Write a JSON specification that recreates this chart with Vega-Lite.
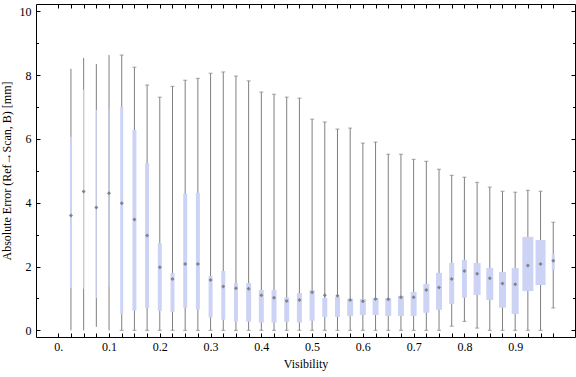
{
  "$schema": "https://vega.github.io/schema/vega-lite/v6.json",
  "width": 539,
  "height": 333,
  "autosize": {"type": "none"},
  "padding": {"left": 36, "top": 4, "right": 1, "bottom": 40},
  "background": "#ffffff",
  "config": {
    "view": {"stroke": "#000000", "strokeWidth": 1},
    "axis": {"domain": false, "grid": false, "tickColor": "#000000", "tickWidth": 1, "labelFont": "Liberation Serif", "labelFontSize": 12, "labelColor": "#000000", "titleFont": "Liberation Serif", "titleFontSize": 12, "titleFontWeight": "normal", "titleColor": "#000000"}
  },
  "data": {
    "values": [
      {"x": 0.025, "min": 0, "q1": 1.32, "mean": 3.6, "q3": 6.07, "max": 8.2, "n": 2},
      {"x": 0.05, "min": 0, "q1": 1.3, "mean": 4.35, "q3": 7.55, "max": 8.54, "n": 1},
      {"x": 0.075, "min": 0.11, "q1": 1.01, "mean": 3.85, "q3": 6.91, "max": 8.35, "n": 1},
      {"x": 0.1, "min": 0, "q1": 1.36, "mean": 4.3, "q3": 6.95, "max": 8.63, "n": 1},
      {"x": 0.125, "min": 0, "q1": 0.51, "mean": 3.98, "q3": 7.0, "max": 8.63, "n": 3},
      {"x": 0.15, "min": 0, "q1": 0.61, "mean": 3.47, "q3": 6.28, "max": 8.25, "n": 4},
      {"x": 0.175, "min": 0, "q1": 0.7, "mean": 2.97, "q3": 5.24, "max": 7.69, "n": 4},
      {"x": 0.2, "min": 0, "q1": 0.61, "mean": 1.98, "q3": 2.73, "max": 7.31, "n": 4},
      {"x": 0.225, "min": 0, "q1": 0.58, "mean": 1.61, "q3": 1.8, "max": 7.65, "n": 4},
      {"x": 0.25, "min": 0, "q1": 0.71, "mean": 2.08, "q3": 4.28, "max": 7.84, "n": 4},
      {"x": 0.275, "min": 0, "q1": 0.65, "mean": 2.08, "q3": 4.31, "max": 7.9, "n": 4},
      {"x": 0.3, "min": 0, "q1": 0.4, "mean": 1.58, "q3": 1.7, "max": 8.06, "n": 4},
      {"x": 0.325, "min": 0, "q1": 0.33, "mean": 1.37, "q3": 1.86, "max": 8.1, "n": 4},
      {"x": 0.35, "min": 0, "q1": 0.27, "mean": 1.32, "q3": 1.48, "max": 7.97, "n": 4},
      {"x": 0.375, "min": 0, "q1": 0.27, "mean": 1.3, "q3": 1.48, "max": 7.82, "n": 5},
      {"x": 0.4, "min": 0, "q1": 0.24, "mean": 1.1, "q3": 1.26, "max": 7.47, "n": 5},
      {"x": 0.425, "min": 0, "q1": 0.24, "mean": 1.02, "q3": 1.26, "max": 7.4, "n": 5},
      {"x": 0.45, "min": 0, "q1": 0.27, "mean": 0.92, "q3": 1.03, "max": 7.31, "n": 5},
      {"x": 0.475, "min": 0, "q1": 0.24, "mean": 0.95, "q3": 1.17, "max": 7.28, "n": 5},
      {"x": 0.5, "min": 0, "q1": 0.3, "mean": 1.19, "q3": 1.26, "max": 6.62, "n": 5},
      {"x": 0.525, "min": 0, "q1": 0.42, "mean": 1.1, "q3": 1.01, "max": 6.53, "n": 5},
      {"x": 0.55, "min": 0, "q1": 0.42, "mean": 1.08, "q3": 1.05, "max": 6.31, "n": 5},
      {"x": 0.575, "min": 0, "q1": 0.45, "mean": 0.95, "q3": 0.99, "max": 6.34, "n": 6},
      {"x": 0.6, "min": 0, "q1": 0.48, "mean": 0.91, "q3": 0.98, "max": 5.87, "n": 6},
      {"x": 0.625, "min": 0, "q1": 0.48, "mean": 0.98, "q3": 1.01, "max": 5.9, "n": 6},
      {"x": 0.65, "min": 0, "q1": 0.45, "mean": 0.97, "q3": 1.01, "max": 5.52, "n": 6},
      {"x": 0.675, "min": 0, "q1": 0.45, "mean": 1.04, "q3": 1.08, "max": 5.52, "n": 6},
      {"x": 0.7, "min": 0, "q1": 0.45, "mean": 1.04, "q3": 1.2, "max": 5.36, "n": 6},
      {"x": 0.725, "min": 0, "q1": 0.55, "mean": 1.26, "q3": 1.45, "max": 5.3, "n": 6},
      {"x": 0.75, "min": 0, "q1": 0.64, "mean": 1.34, "q3": 1.8, "max": 5.05, "n": 6},
      {"x": 0.775, "min": 0.13, "q1": 0.83, "mean": 1.61, "q3": 2.11, "max": 4.86, "n": 5},
      {"x": 0.8, "min": 0.28, "q1": 1.02, "mean": 1.86, "q3": 2.21, "max": 4.8, "n": 5},
      {"x": 0.825, "min": 0.07, "q1": 1.11, "mean": 1.77, "q3": 2.11, "max": 4.64, "n": 7},
      {"x": 0.85, "min": 0, "q1": 0.95, "mean": 1.63, "q3": 1.95, "max": 4.49, "n": 7},
      {"x": 0.875, "min": 0, "q1": 0.71, "mean": 1.47, "q3": 1.83, "max": 4.36, "n": 7},
      {"x": 0.9, "min": 0, "q1": 0.51, "mean": 1.44, "q3": 1.95, "max": 4.33, "n": 7},
      {"x": 0.925, "min": 0, "q1": 1.23, "mean": 2.03, "q3": 2.93, "max": 4.39, "n": 11},
      {"x": 0.95, "min": 0, "q1": 1.42, "mean": 2.08, "q3": 2.83, "max": 4.36, "n": 10},
      {"x": 0.975, "min": 0.7, "q1": 1.89, "mean": 2.18, "q3": 2.39, "max": 3.39, "n": 3}
    ]
  },
  "resolve": {"axis": {"x": "independent", "y": "independent"}, "scale": {"size": "independent"}},
  "layer": [
    {
      "mark": {"type": "rule", "color": "#7f7f7f", "strokeWidth": 1},
      "encoding": {
        "x": {"field": "x", "type": "quantitative", "scale": {"domain": [-0.034, 1.008], "nice": false, "zero": false},
          "axis": {"orient": "bottom", "values": [0, 0.1, 0.2, 0.3, 0.4, 0.5, 0.6, 0.7, 0.8, 0.9], "labelExpr": "datum.value === 0 ? '0.' : format(datum.value, '.1f')", "ticks": false, "labelPadding": 4, "labelFlush": false, "labelOverlap": false, "labelBound": false, "title": "Visibility", "titlePadding": 6}},
        "y": {"field": "min", "type": "quantitative", "scale": {"domain": [-0.21, 10.23], "nice": false, "zero": false},
          "axis": {"orient": "left", "values": [0, 2, 4, 6, 8, 10], "ticks": false, "labelPadding": 5, "labelFlush": false, "labelOverlap": false, "title": "Absolute Error (Ref\u2192Scan, B) [mm]", "titlePadding": 6}},
        "y2": {"field": "max"}
      }
    },
    {
      "mark": {"type": "tick", "orient": "horizontal", "color": "#7f7f7f", "thickness": 1},
      "encoding": {
        "x": {"field": "x", "type": "quantitative",
          "axis": {"orient": "top", "values": [0, 0.025, 0.05, 0.075, 0.1, 0.125, 0.15, 0.175, 0.2, 0.225, 0.25, 0.275, 0.3, 0.325, 0.35, 0.375, 0.4, 0.425, 0.45, 0.475, 0.5, 0.525, 0.55, 0.575, 0.6, 0.625, 0.65, 0.675, 0.7, 0.725, 0.75, 0.775, 0.8, 0.825, 0.85, 0.875, 0.9, 0.925, 0.95, 0.975], "labels": false, "tickSize": -4, "title": null}},
        "y": {"field": "max", "type": "quantitative",
          "axis": {"orient": "right", "values": [0, 2, 4, 6, 8, 10], "labels": false, "tickSize": -4, "title": null}},
        "size": {"field": "n", "type": "quantitative", "scale": {"domain": [0, 2, 3, 20], "range": [0, 0, 4, 4]}, "legend": null}
      }
    },
    {
      "mark": {"type": "bar", "color": "#cdd3f5"},
      "encoding": {
        "x": {"field": "x", "type": "quantitative",
          "axis": {"orient": "bottom", "values": [0, 0.025, 0.05, 0.075, 0.1, 0.125, 0.15, 0.175, 0.2, 0.225, 0.25, 0.275, 0.3, 0.325, 0.35, 0.375, 0.4, 0.425, 0.45, 0.475, 0.5, 0.525, 0.55, 0.575, 0.6, 0.625, 0.65, 0.675, 0.7, 0.725, 0.75, 0.775, 0.8, 0.825, 0.85, 0.875, 0.9, 0.925, 0.95, 0.975], "labels": false, "tickSize": -4, "title": null}},
        "y": {"field": "q1", "type": "quantitative",
          "axis": {"orient": "left", "values": [0, 2, 4, 6, 8, 10], "labels": false, "tickSize": -4, "title": null}},
        "y2": {"field": "q3"},
        "size": {"field": "n", "type": "quantitative", "scale": {"domain": [0, 11], "range": [0, 11]}, "legend": null}
      }
    },
    {
      "mark": {"type": "point", "shape": "diamond", "filled": true, "color": "#7a7a7a", "opacity": 0.9, "size": 16},
      "encoding": {
        "x": {"field": "x", "type": "quantitative", "axis": null},
        "y": {"field": "mean", "type": "quantitative",
          "axis": {"orient": "left", "values": [1, 3, 5, 7, 9], "labels": false, "tickSize": -2.5, "title": null}}
      }
    },
    {
      "mark": {"type": "tick", "orient": "horizontal", "color": "#7f7f7f", "thickness": 1},
      "encoding": {
        "x": {"field": "x", "type": "quantitative", "axis": null},
        "y": {"field": "min", "type": "quantitative",
          "axis": {"orient": "right", "values": [1, 3, 5, 7, 9], "labels": false, "tickSize": -2.5, "title": null}},
        "size": {"field": "n", "type": "quantitative", "scale": {"domain": [0, 2, 3, 20], "range": [0, 0, 4, 4]}, "legend": null}
      }
    }
  ]
}
